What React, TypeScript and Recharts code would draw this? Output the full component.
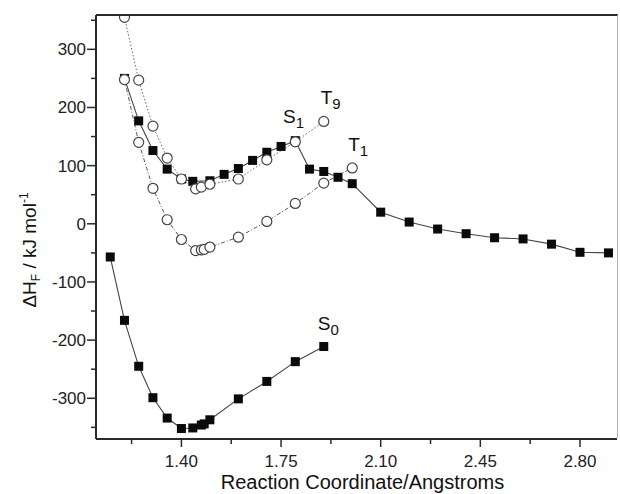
import React from 'react';
import { LineChart, Line, XAxis, YAxis, LabelList, Label } from 'recharts';

// S0 ground state
const s0X = [1.15, 1.2, 1.25, 1.3, 1.35, 1.4, 1.44, 1.47, 1.48, 1.5, 1.6, 1.7, 1.8, 1.9];
const s0Y = [-57, -166, -245, -299, -334, -352, -351, -346, -344, -337, -301, -271, -237, -211];

// S1 excited singlet
const s1X = [1.2, 1.25, 1.3, 1.35, 1.4, 1.44, 1.5, 1.55, 1.6, 1.65, 1.7, 1.75, 1.8, 1.85, 1.9, 1.95, 2.0, 2.1, 2.2, 2.3, 2.4, 2.5, 2.6, 2.7, 2.8, 2.9];
const s1Y = [250, 177, 126, 94, 77, 73, 74, 85, 95, 109, 123, 133, 143, 94, 90, 80, 69, 20, 3, -9, -17, -24, -26, -35, -49, -50];

// T1 triplet
const t1X = [1.2, 1.25, 1.3, 1.35, 1.4, 1.45, 1.47, 1.48, 1.5, 1.6, 1.7, 1.8, 1.9, 2.0];
const t1Y = [248, 140, 61, 7, -27, -46, -45, -44, -40, -23, 4, 35, 70, 96];

// T9 triplet
const t9X = [1.2, 1.25, 1.3, 1.35, 1.4, 1.45, 1.47, 1.5, 1.6, 1.7, 1.8, 1.9];
const t9Y = [355, 247, 168, 113, 77, 60, 63, 68, 77, 110, 141, 176];

const xMajor = [1.4, 1.75, 2.1, 2.45, 2.8];
const xMinor = [1.225, 1.575, 1.925, 2.275, 2.625];
const yMajor = [-300, -200, -100, 0, 100, 200, 300];
const yMinor = [-350, -250, -150, -50, 50, 150, 250, 350];

const xDomain = [1.1, 2.93];
const yDomain = [-370, 359];

const W = 620;
const H = 494;
const TOP = 15;
const RIGHT = 3;
const Y_AXIS_W = 96;
const X_AXIS_H = 55;

const FONT = '"Liberation Sans", Arial, Helvetica, sans-serif';
const AXIS = '#2a2a2a';

const zip = (xs: number[], ys: number[]) => xs.map((x, i) => ({ x, y: ys[i] }));

const s0 = zip(s0X, s0Y);
const s1 = zip(s1X, s1Y);
const t1 = zip(t1X, t1Y);
const t9 = zip(t9X, t9Y);

const isIn = (arr: number[], v: number) => arr.some(a => Math.abs(a - v) < 1e-6);

const XTick = (props: any) => {
  const { x, y, payload } = props;
  const major = isIn(xMajor, payload.value);
  return (
    <g>
      <line x1={x} x2={x} y1={y} y2={y + (major ? 8 : 5)} stroke={AXIS} strokeWidth={1.5} />
      {major && (
        <text x={x} y={y + 28} textAnchor="middle" fontSize={17} fontFamily={FONT} fill="#222">
          {payload.value.toFixed(2)}
        </text>
      )}
    </g>
  );
};

const YTick = (props: any) => {
  const { x, y, payload } = props;
  const major = isIn(yMajor, payload.value);
  return (
    <g>
      <line x1={x} x2={x - (major ? 9 : 5)} y1={y} y2={y} stroke={AXIS} strokeWidth={1.5} />
      {major && (
        <text x={x - 10} y={y + 6} textAnchor="end" fontSize={17} fontFamily={FONT} fill="#222">
          {payload.value}
        </text>
      )}
    </g>
  );
};

const Square = (props: any) => {
  const { cx, cy, index } = props;
  if (cx == null || cy == null) return <g key={`sq-${index}`} />;
  return <rect key={`sq-${index}`} x={cx - 4.5} y={cy - 4.5} width={9} height={9} fill="#0a0a0a" />;
};

const OpenCircle = (props: any) => {
  const { cx, cy, index } = props;
  if (cx == null || cy == null) return <g key={`ci-${index}`} />;
  return <circle key={`ci-${index}`} cx={cx} cy={cy} r={5} fill="#fff" stroke="#444" strokeWidth={1.2} />;
};

// state label with subscript, drawn at one chosen point of a series
const stateLabel = (main: string, sub: string, at: number, dx: number, dy: number) => (props: any) => {
  const { x, y, index } = props;
  if (index !== at) return null;
  return (
    <text x={x + dx} y={y + dy} fontSize={19} fontFamily={FONT} fill="#111">
      {main}
      <tspan dy={5} fontSize={15}>{sub}</tspan>
    </text>
  );
};

export default function App() {
  return (
    <div style={{ position: 'absolute', left: 0, top: 0, width: W, height: H, background: '#fff' }}>
      <LineChart width={W} height={H} margin={{ top: TOP, right: RIGHT, left: 0, bottom: 0 }}>
        <XAxis
          dataKey="x"
          type="number"
          domain={xDomain}
          ticks={[...xMajor, ...xMinor].sort((a, b) => a - b)}
          allowDataOverflow
          height={X_AXIS_H}
          tickSize={0}
          tickMargin={0}
          tickLine={false}
          tick={<XTick />}
          axisLine={{ stroke: AXIS, strokeWidth: 2 }}
        >
          <Label
            content={(p: any) => {
              const vb = p.viewBox;
              return (
                <text x={vb.x + vb.width / 2 + 6} y={489} textAnchor="middle" fontSize={20} fontFamily={FONT} fill="#111">
                  Reaction Coordinate/Angstroms
                </text>
              );
            }}
          />
        </XAxis>
        <YAxis
          type="number"
          domain={yDomain}
          ticks={[...yMajor, ...yMinor].sort((a, b) => a - b)}
          allowDataOverflow
          width={Y_AXIS_W}
          tickSize={0}
          tickMargin={0}
          tickLine={false}
          tick={<YTick />}
          axisLine={{ stroke: AXIS, strokeWidth: 2 }}
        >
          <Label
            content={() => {
              const cx = 36;
              const cy = 250;
              return (
                <text
                  x={cx}
                  y={cy}
                  transform={`rotate(-90, ${cx}, ${cy})`}
                  textAnchor="middle"
                  fontSize={19}
                  fontFamily={FONT}
                  fill="#111"
                >
                  ΔH
                  <tspan dy={4} fontSize={12}>F</tspan>
                  <tspan dy={-4}> / kJ mol</tspan>
                  <tspan dy={-8} fontSize={12}>-1</tspan>
                </text>
              );
            }}
          />
        </YAxis>

        <Line
          data={s0}
          dataKey="y"
          stroke="#444"
          strokeWidth={1.1}
          dot={Square}
          activeDot={false}
          isAnimationActive={false}
        >
          <LabelList dataKey="y" content={stateLabel('S', '0', s0.length - 1, -6, -17)} />
        </Line>
        <Line
          data={s1}
          dataKey="y"
          stroke="#444"
          strokeWidth={1.1}
          dot={Square}
          activeDot={false}
          isAnimationActive={false}
        >
          <LabelList dataKey="y" content={stateLabel('S', '1', 11, 2, -23)} />
        </Line>
        <Line
          data={t1}
          dataKey="y"
          stroke="#555"
          strokeWidth={1}
          strokeDasharray="4 2 1 2"
          dot={OpenCircle}
          activeDot={false}
          isAnimationActive={false}
        >
          <LabelList dataKey="y" content={stateLabel('T', '1', t1.length - 1, -4, -17)} />
        </Line>
        <Line
          data={t9}
          dataKey="y"
          stroke="#666"
          strokeWidth={1}
          strokeDasharray="1.5 2"
          dot={OpenCircle}
          activeDot={false}
          isAnimationActive={false}
        >
          <LabelList dataKey="y" content={stateLabel('T', '9', t9.length - 1, -3, -17)} />
        </Line>
      </LineChart>
      {/* frame: top and right edges of the plot box */}
      <div
        style={{
          position: 'absolute',
          left: Y_AXIS_W,
          top: TOP - 1,
          width: W - Y_AXIS_W - RIGHT + 1,
          height: H - TOP - X_AXIS_H,
          borderTop: `2px solid ${AXIS}`,
          borderRight: '1px solid #b0b0b0',
          boxSizing: 'border-box',
          pointerEvents: 'none',
        }}
      />
    </div>
  );
}
